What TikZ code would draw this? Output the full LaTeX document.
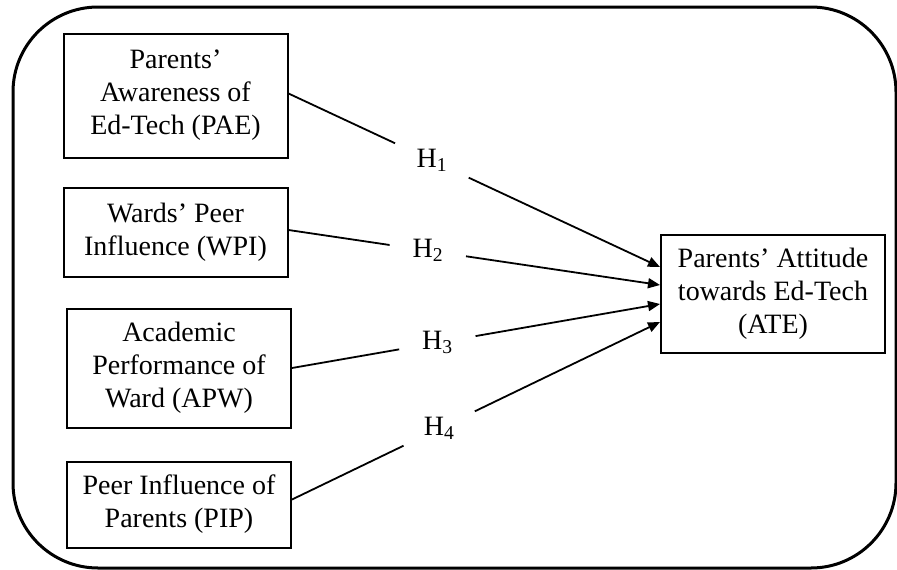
\documentclass[tikz,border=0pt]{standalone}
\usepackage{fontspec}
\setmainfont{Liberation Serif}
\usetikzlibrary{positioning, arrows.meta}

\begin{document}
\begin{tikzpicture}[
x=1pt, y=-1pt,
>={Triangle[length=12pt,width=10pt]},
every node/.style={font=\fontsize{28}{33}\selectfont},
factor/.style={rectangle, draw, line width=2pt, minimum width=224pt, align=center},
outcome/.style={rectangle, draw, line width=2pt, minimum width=224pt, minimum height=118pt, align=center},
hyp/.style={rectangle, minimum width=76pt, minimum height=34pt, inner sep=0pt},
frame/.style={line width=3pt, rounded corners=85pt},
line/.style={line width=1.8pt},
arrow/.style={->, line width=1.8pt}
]
\useasboundingbox (0,0) rectangle (897,570);

% Frame
\draw[frame] (13,7) rectangle (896,568);

% Nodes
\node[factor, minimum height=124pt] (pae) at (175.5,95.5) {Parents’\\Awareness of\\Ed-Tech (PAE)};
\node[factor, minimum height=89pt, below=28pt of pae] (wpi) {Wards’ Peer\\Influence (WPI)};
\node[factor, minimum height=119pt, below=30pt of wpi, xshift=3.5pt] (apw) {Academic\\Performance of\\Ward (APW)};
\node[factor, minimum height=86pt, below=32pt of apw] (pip) {Peer Influence of\\Parents (PIP)};
\node[outcome] (ate) at (773,294) {Parents’ Attitude\\towards Ed-Tech\\(ATE)};

% Arrow ends
\coordinate (t1) at ([yshift=27pt]ate.west);
\coordinate (t2) at ([yshift=9pt]ate.west);
\coordinate (t3) at ([yshift=-10pt]ate.west);
\coordinate (t4) at ([yshift=-28pt]ate.west);
\coordinate (s1) at ([yshift=2pt]pae.east);
\coordinate (s2) at ([yshift=2pt]wpi.east);
\coordinate (s3) at (apw.east);
\coordinate (s4) at ([yshift=5pt]pip.east);

% Hypotheses
\path (s1) -- node[hyp, pos=.386] (h1) {H\textsubscript{1}} (t1);
\path (s2) -- node[hyp, pos=.375] (h2) {H\textsubscript{2}} (t2);
\path (s3) -- node[hyp, pos=.395] (h3) {H\textsubscript{3}} (t3);
\path (s4) -- node[hyp, pos=.40] (h4) {H\textsubscript{4}} (t4);

% Connections
\draw[line] (s1) -- (h1);
\draw[arrow] (h1) -- (t1);
\draw[line] (s2) -- (h2);
\draw[arrow] (h2) -- (t2);
\draw[line] (s3) -- (h3);
\draw[arrow] (h3) -- (t3);
\draw[line] (s4) -- (h4);
\draw[arrow] (h4) -- (t4);

\end{tikzpicture}
\end{document}
